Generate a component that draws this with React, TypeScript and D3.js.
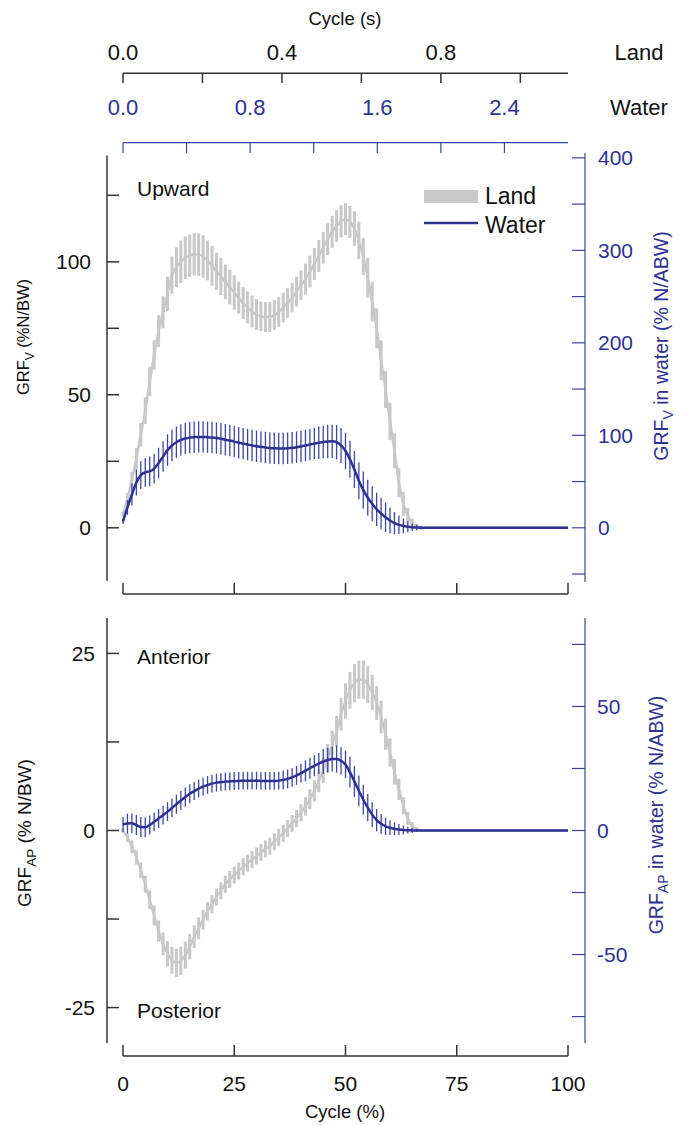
import React from "react";
import * as d3 from "d3";

// Cycle percentage (x categories)
const cyclePct = d3.range(0, 101);

// Vertical GRF on land (% N/BW), mean and SD
const landV = [
  5, 11, 18, 26, 35, 44, 55, 65, 74, 81,
  88, 95, 98, 100, 101.5, 102.3, 102.8, 102.7, 102, 100.5,
  98.5, 96.5, 94.5, 92.5, 90.5, 88.5, 86.5, 84.5, 82.8, 81.3,
  80.2, 79.5, 79.2, 79.3, 80, 81.2, 82.8, 84.5, 86.5, 88.8,
  91.2, 93.5, 96.3, 99.2, 102.2, 105.3, 108.5, 111.3, 113.5, 115.2,
  116, 115, 112.5, 108, 102, 94, 85, 75, 63, 52,
  40, 29, 17, 9, 4.5, 1.5, 0.4, 0, 0, 0,
  0, 0, 0, 0, 0, 0, 0, 0, 0, 0,
  0, 0, 0, 0, 0, 0, 0, 0, 0, 0,
  0, 0, 0, 0, 0, 0, 0, 0, 0, 0,
  0,
];
const landVsd = [
  1, 2, 3, 4, 4.5, 5, 5.5, 5.5, 6, 6,
  6.5, 7, 7.5, 8, 8, 8, 8, 8, 8, 7.5,
  7.5, 7, 7, 6.5, 6.5, 6.5, 6, 6, 6, 6,
  5.8, 5.6, 5.6, 5.6, 5.6, 5.6, 5.6, 5.6, 5.6, 5.6,
  5.6, 5.8, 6, 6, 6, 6, 6, 6, 6, 6,
  6, 6, 6.5, 7, 7, 7.5, 7.5, 7.5, 7.5, 7,
  7, 6.5, 5.5, 4.5, 3, 2, 1, 0, 0, 0,
  0, 0, 0, 0, 0, 0, 0, 0, 0, 0,
  0, 0, 0, 0, 0, 0, 0, 0, 0, 0,
  0, 0, 0, 0, 0, 0, 0, 0, 0, 0,
  0,
];

// Vertical GRF in water (% N/ABW), mean and SD
const waterV = [
  7, 22, 36, 49, 57, 60, 61, 64, 70, 77,
  84, 89, 92.5, 95, 96.5, 97.5, 98, 98.3, 98.3, 98,
  97.6, 97, 96.2, 95.3, 94.3, 93.2, 92, 91, 90, 89,
  88.2, 87.5, 86.8, 86.3, 86, 85.8, 85.8, 86, 86.5, 87.2,
  88, 89, 90, 91, 92, 92.8, 93.3, 93.5, 92.5, 89,
  83, 74, 63, 51, 41, 32.5, 26, 20, 15.5, 11.5,
  8, 5, 3.2, 2, 1.2, 0.6, 0.3, 0.1, 0, 0,
  0, 0, 0, 0, 0, 0, 0, 0, 0, 0,
  0, 0, 0, 0, 0, 0, 0, 0, 0, 0,
  0, 0, 0, 0, 0, 0, 0, 0, 0, 0,
  0,
];
const waterVsd = [
  3, 8, 12, 14, 15, 15.5, 16, 16, 16.5, 16.5,
  17, 17, 17, 17, 17, 17, 17, 17, 17, 17,
  17, 17, 17, 17, 17, 17, 17, 17, 17, 17,
  17, 17, 17, 17, 17, 17, 17, 17, 17, 17,
  17, 17, 17, 17, 17.5, 17.5, 18, 18, 18.5, 19,
  19.5, 20, 20, 20, 20, 19.5, 19, 18, 17, 16,
  14, 12, 10, 8, 6, 4, 3, 2, 0, 0,
  0, 0, 0, 0, 0, 0, 0, 0, 0, 0,
  0, 0, 0, 0, 0, 0, 0, 0, 0, 0,
  0, 0, 0, 0, 0, 0, 0, 0, 0, 0,
  0,
];

// Anterior-posterior GRF on land (% N/BW)
const landAP = [
  0, -1, -2.3, -3.8, -5.6, -7.6, -9.8, -12, -14.2, -16,
  -17.4, -18.3, -18.7, -18.4, -17.6, -16.4, -15, -13.8, -12.6, -11.4,
  -10.4, -9.4, -8.5, -7.6, -6.9, -6.3, -5.7, -5.1, -4.6, -4.1,
  -3.6, -3.1, -2.6, -2.2, -1.6, -1, -0.4, 0.3, 1, 1.7,
  2.5, 3.4, 4.4, 5.6, 7, 8.5, 10.2, 12, 14, 16.4,
  18.3, 19.8, 20.8, 21.3, 21.3, 20.6, 19.5, 18, 16, 13.6,
  11, 8.3, 5.8, 3.5, 1.7, 0.6, 0.2, 0, 0, 0,
  0, 0, 0, 0, 0, 0, 0, 0, 0, 0,
  0, 0, 0, 0, 0, 0, 0, 0, 0, 0,
  0, 0, 0, 0, 0, 0, 0, 0, 0, 0,
  0,
];
const landAPsd = [
  0.3, 0.6, 0.9, 1, 1.1, 1.2, 1.3, 1.4, 1.5, 1.6,
  1.8, 1.9, 2, 2, 1.9, 1.8, 1.6, 1.5, 1.4, 1.3,
  1.3, 1.2, 1.2, 1.2, 1.2, 1.2, 1.2, 1.2, 1.2, 1.2,
  1.2, 1.2, 1.2, 1.2, 1.2, 1.2, 1.2, 1.2, 1.2, 1.2,
  1.2, 1.3, 1.4, 1.5, 1.6, 1.8, 2, 2.1, 2.2, 2.3,
  2.5, 2.6, 2.7, 2.7, 2.7, 2.6, 2.5, 2.4, 2.3, 2.2,
  2, 1.8, 1.5, 1.2, 0.9, 0.6, 0.3, 0, 0, 0,
  0, 0, 0, 0, 0, 0, 0, 0, 0, 0,
  0, 0, 0, 0, 0, 0, 0, 0, 0, 0,
  0, 0, 0, 0, 0, 0, 0, 0, 0, 0,
  0,
];

// Anterior-posterior GRF in water (% N/ABW)
const waterAP = [
  2.4, 2.8, 2.9, 2.2, 1.4, 1.3, 2.2, 3.5, 4.8, 6.2,
  7.6, 9.1, 10.6, 12.1, 13.5, 14.8, 15.9, 16.9, 17.7, 18.4,
  18.9, 19.3, 19.5, 19.7, 19.8, 19.9, 20, 20.1, 20.1, 20.1,
  20.1, 20, 20, 20, 20, 20.1, 20.4, 20.8, 21.4, 22.2,
  23.1, 24.1, 25.1, 26.1, 27, 27.8, 28.4, 28.8, 28.8, 28.1,
  26.6, 23.5, 19.8, 16, 12.4, 9.2, 6.4, 4.2, 2.7, 1.7,
  1.1, 0.7, 0.4, 0.2, 0.1, 0, 0, 0, 0, 0,
  0, 0, 0, 0, 0, 0, 0, 0, 0, 0,
  0, 0, 0, 0, 0, 0, 0, 0, 0, 0,
  0, 0, 0, 0, 0, 0, 0, 0, 0, 0,
  0,
];
const waterAPsd = [
  3, 4, 4, 4, 4, 4, 3.8, 3.8, 3.8, 3.8,
  3.8, 3.8, 3.8, 3.8, 3.8, 3.8, 3.6, 3.6, 3.6, 3.6,
  3.6, 3.6, 3.6, 3.6, 3.6, 3.6, 3.6, 3.6, 3.6, 3.6,
  3.6, 3.6, 3.6, 3.6, 3.6, 3.6, 3.8, 3.8, 3.8, 3.8,
  3.8, 4.2, 4.2, 4.2, 4.2, 5, 5, 5, 5.5, 5.5,
  5.5, 6.2, 6.2, 6.2, 6, 5.5, 5, 4.5, 4, 3.5,
  3, 2.6, 2.2, 1.8, 1.4, 1, 0.5, 0, 0, 0,
  0, 0, 0, 0, 0, 0, 0, 0, 0, 0,
  0, 0, 0, 0, 0, 0, 0, 0, 0, 0,
  0, 0, 0, 0, 0, 0, 0, 0, 0, 0,
  0,
];

// Axis tick values
const pctTicks = [0, 25, 50, 75, 100];
const landTimeTicks = [0, 0.2, 0.4, 0.6, 0.8, 1.0];
const landTimeLabels = [0, 0.4, 0.8];
const waterTimeTicks = [0, 0.4, 0.8, 1.2, 1.6, 2.0, 2.4];
const waterTimeLabels = [0, 0.8, 1.6, 2.4];
const vLeftTicks = [0, 25, 50, 75, 100, 125];
const vLeftLabels = [0, 50, 100];
const vRightTicks = [-50, 0, 50, 100, 150, 200, 250, 300, 350, 400];
const vRightLabels = [0, 100, 200, 300, 400];
const apLeftTicks = [-25, -12.5, 0, 12.5, 25];
const apLeftLabels = [-25, 0, 25];
const apRightTicks = [-75, -50, -25, 0, 25, 50, 75];
const apRightLabels = [-50, 0, 50];

const GRAY = "#c8c8c8";
const BLUE = "#2e3192";
const BLUE_BAR = "#3c48a6";
const AXIS_BLUE = "#3a44a0";
const FONT = "'Liberation Sans', Arial, sans-serif";

export default function App() {
  const x = d3.scaleLinear().domain([0, 100]).range([123, 568]);
  const xLand = d3.scaleLinear().domain([0, 1.12]).range([123, 568]);
  const xWater = d3.scaleLinear().domain([0, 2.8]).range([123, 568]);

  const kV = 2.876;
  const yV = d3.scaleLinear().domain([-20, 140]).range([581, 155.4]);
  const yVR = d3.scaleLinear().domain([-20 * kV, 140 * kV]).range([581, 155.4]);
  const kAP = 2.855;
  const yAP = d3.scaleLinear().domain([-30, 30]).range([1043, 618]);
  const yAPR = d3.scaleLinear().domain([-30 * kAP, 30 * kAP]).range([1043, 618]);

  const lineFor = (ys: d3.ScaleLinear<number, number>, vals: number[]) =>
    d3
      .line<number>()
      .x((d) => x(d))
      .y((d) => ys(vals[d]))
      .curve(d3.curveMonotoneX)(cyclePct) as string;

  const bars = (
    ys: d3.ScaleLinear<number, number>,
    vals: number[],
    sds: number[],
    color: string,
    w: number,
    key: string
  ) =>
    cyclePct
      .filter((i) => sds[i] > 0)
      .map((i) => (
        <line
          key={key + i}
          x1={x(i)}
          x2={x(i)}
          y1={ys(vals[i] - sds[i])}
          y2={ys(vals[i] + sds[i])}
          stroke={color}
          strokeWidth={w}
        />
      ));

  const tickFont = 21;
  const topFont = 22;
  const annFont = 21;

  return (
    <svg
      width={688}
      height={1125}
      style={{ position: "absolute", left: 0, top: 0, background: "#fff" }}
      fontFamily={FONT}
    >
      {/* Top time axes */}
      <text x={345} y={24.5} fontSize={18.5} textAnchor="middle" fill="#111">
        Cycle (s)
      </text>
      <line x1={123} x2={568} y1={73.3} y2={73.3} stroke="#333" strokeWidth={1.5} />
      {landTimeTicks.map((t) => (
        <line key={"lt" + t} x1={xLand(t)} x2={xLand(t)} y1={73.3} y2={83} stroke="#333" strokeWidth={1.5} />
      ))}
      {landTimeLabels.map((t) => (
        <text key={"ll" + t} x={xLand(t)} y={60} fontSize={topFont} textAnchor="middle" fill="#111">
          {d3.format(".1f")(t)}
        </text>
      ))}
      <text x={639} y={60} fontSize={topFont} textAnchor="middle" fill="#111">
        Land
      </text>

      <line x1={123} x2={568} y1={142.7} y2={142.7} stroke={AXIS_BLUE} strokeWidth={1.2} />
      {waterTimeTicks.map((t) => (
        <line key={"wt" + t} x1={xWater(t)} x2={xWater(t)} y1={142.7} y2={153} stroke={AXIS_BLUE} strokeWidth={1.2} />
      ))}
      {waterTimeLabels.map((t) => (
        <text key={"wl" + t} x={xWater(t)} y={115} fontSize={topFont} textAnchor="middle" fill={BLUE}>
          {d3.format(".1f")(t)}
        </text>
      ))}
      <text x={639} y={115} fontSize={topFont} textAnchor="middle" fill="#111">
        Water
      </text>

      {/* ===== Top panel: vertical GRF ===== */}
      <line x1={107} x2={107} y1={yV(140)} y2={yV(-20)} stroke="#333" strokeWidth={1.5} />
      {vLeftTicks.map((t) => (
        <line key={"vl" + t} x1={107} x2={119} y1={yV(t)} y2={yV(t)} stroke="#333" strokeWidth={1.5} />
      ))}
      {vLeftLabels.map((t) => (
        <text key={"vll" + t} x={91} y={yV(t) + 7.5} fontSize={tickFont} textAnchor="end" fill="#111">
          {t}
        </text>
      ))}
      <line x1={585} x2={585} y1={153} y2={582} stroke={AXIS_BLUE} strokeWidth={1.2} />
      {vRightTicks.map((t) => (
        <line key={"vr" + t} x1={572} x2={585} y1={yVR(t)} y2={yVR(t)} stroke={AXIS_BLUE} strokeWidth={1.2} />
      ))}
      {vRightLabels.map((t) => (
        <text key={"vrl" + t} x={598} y={yVR(t) + 7.5} fontSize={tickFont} textAnchor="start" fill={BLUE}>
          {t}
        </text>
      ))}
      <line x1={123} x2={568} y1={594} y2={594} stroke="#333" strokeWidth={1.5} />
      {pctTicks.map((t) => (
        <line key={"tp" + t} x1={x(t)} x2={x(t)} y1={583} y2={594} stroke="#333" strokeWidth={1.5} />
      ))}

      <text transform="translate(29,337) rotate(-90)" fontSize={16.5} textAnchor="middle" fill="#111">
        GRF<tspan fontSize={12} dy={5}>V</tspan>
        <tspan dy={-5}> (%N/BW)</tspan>
      </text>
      <text transform="translate(668,346) rotate(-90)" fontSize={19.5} textAnchor="middle" fill={BLUE}>
        GRF<tspan fontSize={14} dy={5}>V</tspan>
        <tspan dy={-5}> in water (% N/ABW)</tspan>
      </text>

      {bars(yV, landV, landVsd, GRAY, 3, "lvb")}
      <path d={lineFor(yV, landV)} fill="none" stroke={GRAY} strokeWidth={2.5} />
      {bars(yVR, waterV, waterVsd, BLUE_BAR, 1.3, "wvb")}
      <path d={lineFor(yVR, waterV)} fill="none" stroke={BLUE} strokeWidth={2.5} />

      <text x={137} y={195.5} fontSize={annFont} fill="#111">
        Upward
      </text>

      {/* Legend */}
      <rect x={424} y={190} width={54} height={13} fill={GRAY} />
      <text x={485} y={204} fontSize={23} fill="#111">
        Land
      </text>
      <line x1={424} x2={478} y1={223} y2={223} stroke={BLUE} strokeWidth={2.5} />
      <text x={485} y={233} fontSize={23} fill="#111">
        Water
      </text>

      {/* ===== Bottom panel: AP GRF ===== */}
      <line x1={107} x2={107} y1={yAP(30)} y2={yAP(-30)} stroke="#333" strokeWidth={1.5} />
      {apLeftTicks.map((t) => (
        <line key={"al" + t} x1={107} x2={119} y1={yAP(t)} y2={yAP(t)} stroke="#333" strokeWidth={1.5} />
      ))}
      {apLeftLabels.map((t) => (
        <text key={"all" + t} x={95} y={yAP(t) + 7.5} fontSize={tickFont} textAnchor="end" fill="#111">
          {t}
        </text>
      ))}
      <line x1={585} x2={585} y1={yAPR(85.7)} y2={yAPR(-85.7)} stroke={AXIS_BLUE} strokeWidth={1.2} />
      {apRightTicks.map((t) => (
        <line key={"ar" + t} x1={572} x2={585} y1={yAPR(t)} y2={yAPR(t)} stroke={AXIS_BLUE} strokeWidth={1.2} />
      ))}
      {apRightLabels.map((t) => (
        <text key={"arl" + t} x={597} y={yAPR(t) + 7.5} fontSize={tickFont} textAnchor="start" fill={BLUE}>
          {t}
        </text>
      ))}
      <line x1={123} x2={568} y1={1056} y2={1056} stroke="#333" strokeWidth={1.5} />
      {pctTicks.map((t) => (
        <line key={"bp" + t} x1={x(t)} x2={x(t)} y1={1045} y2={1056} stroke="#333" strokeWidth={1.5} />
      ))}
      {pctTicks.map((t) => (
        <text key={"bpl" + t} x={x(t)} y={1090.5} fontSize={tickFont} textAnchor="middle" fill="#111">
          {t}
        </text>
      ))}
      <text x={345} y={1117.5} fontSize={18.5} textAnchor="middle" fill="#111">
        Cycle (%)
      </text>

      <text transform="translate(31,833) rotate(-90)" fontSize={19} textAnchor="middle" fill="#111">
        GRF<tspan fontSize={13.5} dy={5}>AP</tspan>
        <tspan dy={-5}> (% N/BW)</tspan>
      </text>
      <text transform="translate(663,815) rotate(-90)" fontSize={19.5} textAnchor="middle" fill={BLUE}>
        GRF<tspan fontSize={14} dy={5}>AP</tspan>
        <tspan dy={-5}> in water (% N/ABW)</tspan>
      </text>

      {bars(yAP, landAP, landAPsd, GRAY, 3, "lab")}
      <path d={lineFor(yAP, landAP)} fill="none" stroke={GRAY} strokeWidth={2.5} />
      {bars(yAPR, waterAP, waterAPsd, BLUE_BAR, 1.3, "wab")}
      <path d={lineFor(yAPR, waterAP)} fill="none" stroke={BLUE} strokeWidth={2.5} />

      <text x={137} y={663.5} fontSize={annFont} fill="#111">
        Anterior
      </text>
      <text x={137} y={1017.5} fontSize={annFont} fill="#111">
        Posterior
      </text>
    </svg>
  );
}
